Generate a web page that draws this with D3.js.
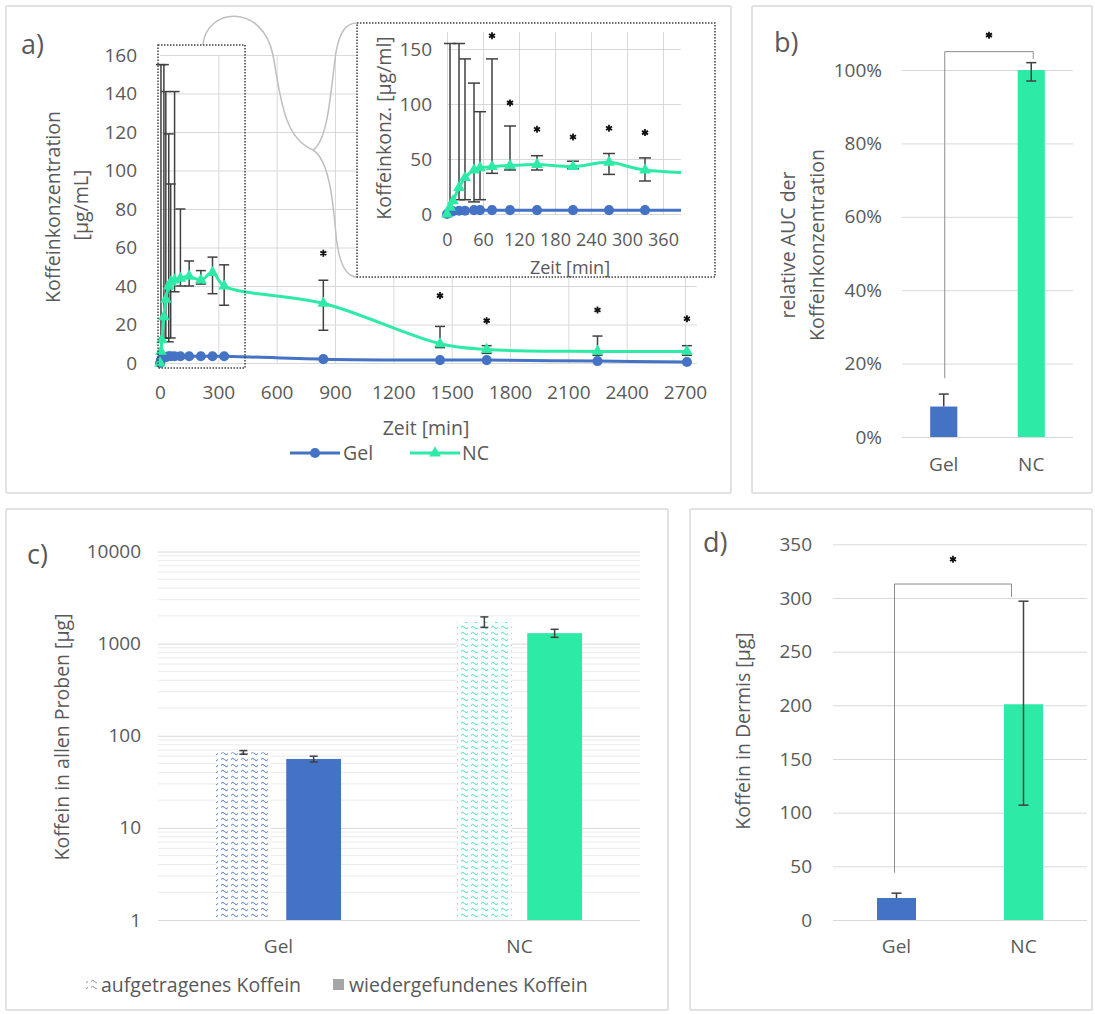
<!DOCTYPE html>
<html><head><meta charset="utf-8">
<script src="https://cdn.jsdelivr.net/npm/d3@7"></script>
<style>
body{margin:0;background:#fff;}
text{font-family:'Open Sans',Lato,sans-serif;}
</style>
</head><body>
<svg id="chart" width="1095" height="1014"></svg>
<script>
// ---------- DATA ----------
// Panel a: time course (min) of caffeine concentration (µg/mL)
const times     = [0, 5, 10, 20, 30, 45, 55, 75, 105, 150, 210, 270, 330, 840, 1440, 1680, 2250, 2710];
const gelConc   = [0, 1.5, 2.5, 3, 3, 3.5, 3.5, 3.5, 3.5, 3.5, 3.5, 3.5, 3.5, 2, 1.5, 1.5, 1, 0.5];
const ncConc    = [0, 6, 12, 24, 33, 40, 42, 43, 44, 45, 43, 47, 40, 31, 10, 7, 6, 6];
const ncErrLow  = [null, 2, null, 13, 13, 11, 13, 37, 40, 40, 41, 36, 30, 17, 8, 5, 4, 4];
const ncErrHigh = [null, 155, null, 155, 141, 119, 93, 141, 80, 53, 48, 55, 51, 43, 19, 9, 14, 9];
const mainStarTimes  = [840, 1440, 1680, 2250, 2710];
const mainStarVals   = [57, 35, 22, 27.5, 23];
const insetStarTimes = [75, 105, 150, 210, 270, 330];
const insetStarVals  = [162, 101, 77, 70, 78, 74];
const aXTicks = [0, 300, 600, 900, 1200, 1500, 1800, 2100, 2400, 2700];
const aYTicks = [0, 20, 40, 60, 80, 100, 120, 140, 160];
const insetXTicks = [0, 60, 120, 180, 240, 300, 360];
const insetYTicks = [0, 50, 100, 150];
const seriesNames = ["Gel", "NC"];

// Panel b: relative AUC
const aucVals = [0.083, 1.0];
const aucErrLow = [0.083, 0.97];
const aucErrHigh = [0.117, 1.02];
const bYTicks = [0, 0.2, 0.4, 0.6, 0.8, 1.0];

// Panel c: caffeine in all samples (µg), log scale
const cSeries = ["aufgetragenes Koffein", "wiedergefundenes Koffein"];
const cApplied = [66, 1720];
const cAppliedLow = [63, 1500];
const cAppliedHigh = [69, 1950];
const cRecovered = [56, 1300];
const cRecoveredLow = [52, 1170];
const cRecoveredHigh = [60, 1430];
const cYTicks = [1, 10, 100, 1000, 10000];

// Panel d: caffeine in dermis (µg)
const dermisVals = [20.5, 201];
const dermisErrLow = [20.5, 107];
const dermisErrHigh = [25, 297];
const dYTicks = [0, 50, 100, 150, 200, 250, 300, 350];

// ---------- STYLE ----------
const TXT = "#595959", GRID = "#D9D9D9", ERR = "#404040", BLUE = "#4472C4", GREEN = "#2DEBA7";
const FS = 19, TFS = 19.5;
const svg = d3.select("#chart");

function styleAxis(g, fs) {
  g.attr("font-family", null).attr("font-size", fs || FS);
  g.select(".domain").remove();
  g.selectAll(".tick line").attr("stroke", GRID).attr("stroke-width", 1);
  g.selectAll(".tick text").attr("fill", TXT);
}
function errBar(g, x, y0, y1, hw) {
  g.append("line").attr("x1", x).attr("x2", x).attr("y1", y0).attr("y2", y1).attr("stroke", ERR).attr("stroke-width", 1.5);
  g.append("line").attr("x1", x - hw).attr("x2", x + hw).attr("y1", y1).attr("y2", y1).attr("stroke", ERR).attr("stroke-width", 1.5);
  g.append("line").attr("x1", x - hw).attr("x2", x + hw).attr("y1", y0).attr("y2", y0).attr("stroke", ERR).attr("stroke-width", 1.5);
}
const starSym = d3.symbol().type(d3.symbolAsterisk || d3.symbolCross).size(34);
function star(g, x, y) {
  g.append("path").attr("d", starSym()).attr("transform", `translate(${x},${y})`)
    .attr("fill", "none").attr("stroke", "#111").attr("stroke-width", 1.8);
}
function panelRect(x0, y0, x1, y1) {
  svg.append("rect").attr("x", x0).attr("y", y0).attr("width", x1 - x0).attr("height", y1 - y0)
    .attr("fill", "#fff").attr("stroke", "#D9D9D9").attr("stroke-width", 1.5).attr("rx", 1);
}
function label(x, y, t, opts = {}) {
  const el = svg.append("text").attr("x", x).attr("y", y).text(t)
    .attr("fill", opts.fill || TXT).attr("font-size", opts.fs || TFS)
    .attr("text-anchor", opts.anchor || "start");
  if (opts.rot) el.attr("transform", `rotate(-90,${x},${y})`);
  if (opts.dy) el.attr("dy", opts.dy);
  return el;
}

panelRect(6, 6, 731, 493);
panelRect(752, 6, 1092, 493);
panelRect(6, 509, 668, 1010);
panelRect(690, 509, 1092, 1010);

// ---------- PANEL A ----------
const xA = d3.scaleLinear().domain([0, 2700]).range([160, 685]);
const yA = d3.scaleLinear().domain([0, 160]).range([363, 55]);
const aG = svg.append("g");
aG.append("g").attr("transform", "translate(160,0)")
  .call(d3.axisLeft(yA).tickValues(aYTicks).tickSize(-(697 - 160)).tickPadding(23))
  .call(g => styleAxis(g));
aG.append("g").attr("transform", "translate(0,363)")
  .call(d3.axisBottom(xA).tickValues(aXTicks).tickFormat(d3.format("d")).tickSize(-(363 - 55)).tickPadding(23))
  .call(g => styleAxis(g))
  .call(g => g.selectAll(".tick line").filter(d => d === 0).remove());

label(21, 54, "a)", {fs: 27});
label(53, 207, "Koffeinkonzentration", {rot: true, anchor: "middle", dy: "0.35em"});
label(81, 205, "[µg/mL]", {rot: true, anchor: "middle", dy: "0.35em"});
label(426, 435, "Zeit [min]", {anchor: "middle"});

const gelPts = times.map((t, i) => ({t, v: gelConc[i]}));
const ncPts = times.map((t, i) => ({t, v: ncConc[i], lo: ncErrLow[i], hi: ncErrHigh[i]}));

// error bars (main)
ncPts.filter(d => d.lo !== null).forEach(d => errBar(aG, xA(d.t), yA(d.lo), yA(d.hi), 5));

const lineA = d3.line().x(d => xA(d.t)).y(d => yA(d.v)).curve(d3.curveCatmullRom.alpha(0.5));
aG.append("path").datum(gelPts).attr("d", lineA).attr("fill", "none").attr("stroke", BLUE).attr("stroke-width", 3);
aG.append("path").datum(ncPts).attr("d", lineA).attr("fill", "none").attr("stroke", GREEN).attr("stroke-width", 3);
const circ = d3.symbol().type(d3.symbolCircle).size(80);
const tri = d3.symbol().type(d3.symbolTriangle).size(60);
aG.selectAll(".gm").data(gelPts).join("path").attr("d", circ()).attr("fill", BLUE)
  .attr("transform", d => `translate(${xA(d.t)},${yA(d.v)})`);
aG.selectAll(".nm").data(ncPts).join("path").attr("d", tri()).attr("fill", GREEN)
  .attr("transform", d => `translate(${xA(d.t)},${yA(d.v)})`);
mainStarTimes.forEach((t, i) => star(aG, xA(t), yA(mainStarVals[i])));

// legend a
const lg = svg.append("g");
lg.append("line").attr("x1", 290).attr("x2", 340).attr("y1", 453).attr("y2", 453).attr("stroke", BLUE).attr("stroke-width", 3);
lg.append("path").attr("d", circ()).attr("fill", BLUE).attr("transform", "translate(315,453)");
label(343, 460, seriesNames[0]);
lg.append("line").attr("x1", 410).attr("x2", 460).attr("y1", 453).attr("y2", 453).attr("stroke", GREEN).attr("stroke-width", 3);
lg.append("path").attr("d", tri()).attr("fill", GREEN).attr("transform", "translate(435,453)");
label(462, 460, seriesNames[1]);

// zoom box + connector
const deco = svg.append("g").attr("fill", "none");
deco.append("path").attr("d", "M203,45 C206,8 262,2 273,55 C281,100 284,138 313,150")
  .attr("stroke", "#BFBFBF").attr("stroke-width", 1.5);
deco.append("path").attr("d", "M313,150 C329,140 331,85 336,52 C340,30 347,23 357,23")
  .attr("stroke", "#BFBFBF").attr("stroke-width", 1.5);
deco.append("path").attr("d", "M313,150 C329,160 333,200 336,235 C339,265 346,277 357,277")
  .attr("stroke", "#BFBFBF").attr("stroke-width", 1.5);
deco.append("rect").attr("x", 158).attr("y", 45).attr("width", 87).attr("height", 323)
  .attr("stroke", "#404040").attr("stroke-width", 1.5).attr("stroke-dasharray", "1.5,1.5");

// ---------- INSET ----------
svg.append("rect").attr("x", 357).attr("y", 23).attr("width", 358).attr("height", 254)
  .attr("fill", "#fff").attr("stroke", "#404040").attr("stroke-width", 1.5).attr("stroke-dasharray", "1.5,1.5");
const xI = d3.scaleLinear().domain([0, 390]).range([447, 681]);
const yI = d3.scaleLinear().domain([0, 150]).range([214, 49]);
const iG = svg.append("g");
iG.append("g").attr("transform", "translate(447,0)")
  .call(d3.axisLeft(yI).tickValues(insetYTicks).tickSize(-(681 - 447)).tickPadding(15))
  .call(g => styleAxis(g));
iG.append("g").attr("transform", "translate(0,214)")
  .call(d3.axisBottom(xI).tickValues(insetXTicks).tickSize(-(214 - 32)).tickPadding(19))
  .call(g => styleAxis(g, 18));
label(384, 128, "Koffeinkonz. [µg/ml]", {rot: true, anchor: "middle", dy: "0.35em"});
label(570, 274, "Zeit [min]", {anchor: "middle", fs: 18});

svg.append("clipPath").attr("id", "iclip").append("rect").attr("x", 440).attr("y", 25).attr("width", 241).attr("height", 200);
const iData = iG.append("g").attr("clip-path", "url(#iclip)");
ncPts.filter(d => d.lo !== null && d.t <= 390).forEach(d => errBar(iData, xI(d.t), yI(d.lo), yI(d.hi), 6));
const lineI = d3.line().x(d => xI(d.t)).y(d => yI(d.v)).curve(d3.curveCatmullRom.alpha(0.5));
iData.append("path").datum(gelPts).attr("d", lineI).attr("fill", "none").attr("stroke", BLUE).attr("stroke-width", 3);
iData.append("path").datum(ncPts).attr("d", lineI).attr("fill", "none").attr("stroke", GREEN).attr("stroke-width", 3);
iData.selectAll(".gm").data(gelPts.filter(d => d.t <= 390)).join("path").attr("d", circ()).attr("fill", BLUE)
  .attr("transform", d => `translate(${xI(d.t)},${yI(d.v)})`);
iData.selectAll(".nm").data(ncPts.filter(d => d.t <= 390)).join("path").attr("d", tri()).attr("fill", GREEN)
  .attr("transform", d => `translate(${xI(d.t)},${yI(d.v)})`);
insetStarTimes.forEach((t, i) => star(iG, xI(t), yI(insetStarVals[i])));

// ---------- PANEL B ----------
const xB = d3.scaleBand().domain(seriesNames).range([900, 1075]).paddingInner(0.69).paddingOuter(0.345);
const yB = d3.scaleLinear().domain([0, 1]).range([437, 70]);
const bG = svg.append("g");
bG.append("g").attr("transform", "translate(902,0)")
  .call(d3.axisLeft(yB).tickValues(bYTicks).tickFormat(d3.format(".0%")).tickSize(-(1073 - 902)).tickPadding(20))
  .call(g => styleAxis(g));
bG.append("g").attr("transform", "translate(0,437)")
  .call(d3.axisBottom(xB).tickSize(0).tickPadding(21))
  .call(g => styleAxis(g));
label(774, 52, "b)", {fs: 27});
label(788, 245, "relative AUC der", {rot: true, anchor: "middle", dy: "0.35em"});
label(817, 245, "Koffeinkonzentration", {rot: true, anchor: "middle", dy: "0.35em"});
bG.selectAll(".bar").data(seriesNames).join("rect")
  .attr("x", d => xB(d)).attr("width", xB.bandwidth())
  .attr("y", (d, i) => yB(aucVals[i])).attr("height", (d, i) => yB(0) - yB(aucVals[i]))
  .attr("fill", (d, i) => i === 0 ? BLUE : GREEN);
seriesNames.forEach((s, i) => {
  const cx = xB(s) + xB.bandwidth() / 2;
  if (aucErrLow[i] === aucVals[i]) {
    bG.append("line").attr("x1", cx).attr("x2", cx).attr("y1", yB(aucVals[i])).attr("y2", yB(aucErrHigh[i])).attr("stroke", ERR).attr("stroke-width", 1.5);
    bG.append("line").attr("x1", cx - 5).attr("x2", cx + 5).attr("y1", yB(aucErrHigh[i])).attr("y2", yB(aucErrHigh[i])).attr("stroke", ERR).attr("stroke-width", 1.5);
  } else errBar(bG, cx, yB(aucErrLow[i]), yB(aucErrHigh[i]), 5);
});
{
  const gx = xB("Gel") + xB.bandwidth() / 2 + 1, nx = xB("NC") + xB.bandwidth() / 2 + 2;
  bG.append("path").attr("d", `M${gx},${yB(0.16)} V${yB(1.05)} H${nx} V${yB(1.03)}`)
    .attr("fill", "none").attr("stroke", "#8C8C8C").attr("stroke-width", 1);
  star(bG, (gx + nx) / 2, yB(1.095));
}

// ---------- PANEL C ----------
const x0C = d3.scaleBand().domain(seriesNames).range([158, 640]).paddingInner(0.481).paddingOuter(0.2405);
const x1C = d3.scaleBand().domain(cSeries).range([0, x0C.bandwidth()]).paddingInner(0.22);
const yC = d3.scaleLog().domain([1, 10000]).range([920, 551.5]);
const cG = svg.append("g");
const minor = [];
cYTicks.slice(0, -1).forEach(dec => { for (let k = 2; k <= 9; k++) minor.push(dec * k); });
cG.selectAll(".minor").data(minor).join("line")
  .attr("x1", 158).attr("x2", 640).attr("y1", d => yC(d)).attr("y2", d => yC(d))
  .attr("stroke", "#EBEBEB").attr("stroke-width", 1);
cG.append("g").attr("transform", "translate(158,0)")
  .call(d3.axisLeft(yC).tickValues(cYTicks).tickFormat(d3.format("d")).tickSize(-(640 - 158)).tickPadding(17))
  .call(g => styleAxis(g));
cG.append("g").attr("transform", "translate(0,920)")
  .call(d3.axisBottom(x0C).tickSize(0).tickPadding(20))
  .call(g => styleAxis(g));
label(27, 564, "c)", {fs: 27});
label(62, 737, "Koffein in allen Proben [µg]", {rot: true, anchor: "middle", dy: "0.35em"});

const defs = svg.append("defs");
function wave(id, color) {
  const p = defs.append("pattern").attr("id", id).attr("patternUnits", "userSpaceOnUse").attr("width", 10).attr("height", 6);
  p.append("rect").attr("width", 10).attr("height", 6).attr("fill", "#fff");
  p.append("path").attr("d", "M1,3.5 Q2.75,1 4.5,3.5 T8,3.5").attr("fill", "none").attr("stroke", color).attr("stroke-width", 1);
}
wave("wBlue", BLUE); wave("wGreen", GREEN); wave("wGray", "#8C8C8C");

seriesNames.forEach((s, i) => {
  const gx = x0C(s);
  const xa = gx + x1C(cSeries[0]), xr = gx + x1C(cSeries[1]), bw = x1C.bandwidth();
  cG.append("rect").attr("x", xa).attr("width", bw).attr("y", yC(cApplied[i])).attr("height", yC(1) - yC(cApplied[i]))
    .attr("fill", i === 0 ? "url(#wBlue)" : "url(#wGreen)");
  cG.append("rect").attr("x", xr).attr("width", bw).attr("y", yC(cRecovered[i])).attr("height", yC(1) - yC(cRecovered[i]))
    .attr("fill", i === 0 ? BLUE : GREEN);
  errBar(cG, xa + bw / 2, yC(cAppliedLow[i]), yC(cAppliedHigh[i]), 4);
  errBar(cG, xr + bw / 2, yC(cRecoveredLow[i]), yC(cRecoveredHigh[i]), 4);
});
// legend c
svg.append("rect").attr("x", 86).attr("y", 979).attr("width", 11).attr("height", 11).attr("fill", "url(#wGray)");
label(101, 992, cSeries[0]);
svg.append("rect").attr("x", 333).attr("y", 979).attr("width", 11).attr("height", 11).attr("fill", "#A6A6A6");
label(349, 992, cSeries[1]);

// ---------- PANEL D ----------
const xD = d3.scaleBand().domain(seriesNames).range([833, 1087]).paddingInner(0.693).paddingOuter(0.3465);
const yD = d3.scaleLinear().domain([0, 350]).range([920, 544.3]);
const dG = svg.append("g");
dG.append("g").attr("transform", "translate(833,0)")
  .call(d3.axisLeft(yD).tickValues(dYTicks).tickSize(-(1087 - 833)).tickPadding(21))
  .call(g => styleAxis(g));
dG.append("g").attr("transform", "translate(0,920)")
  .call(d3.axisBottom(xD).tickSize(0).tickPadding(20))
  .call(g => styleAxis(g));
label(703, 552, "d)", {fs: 27});
label(743, 731, "Koffein in Dermis [µg]", {rot: true, anchor: "middle", dy: "0.35em"});
dG.selectAll(".bar").data(seriesNames).join("rect")
  .attr("x", d => xD(d)).attr("width", xD.bandwidth())
  .attr("y", (d, i) => yD(dermisVals[i])).attr("height", (d, i) => yD(0) - yD(dermisVals[i]))
  .attr("fill", (d, i) => i === 0 ? BLUE : GREEN);
seriesNames.forEach((s, i) => {
  const cx = xD(s) + xD.bandwidth() / 2;
  if (dermisErrLow[i] === dermisVals[i]) {
    dG.append("line").attr("x1", cx).attr("x2", cx).attr("y1", yD(dermisVals[i])).attr("y2", yD(dermisErrHigh[i])).attr("stroke", ERR).attr("stroke-width", 1.5);
    dG.append("line").attr("x1", cx - 5).attr("x2", cx + 5).attr("y1", yD(dermisErrHigh[i])).attr("y2", yD(dermisErrHigh[i])).attr("stroke", ERR).attr("stroke-width", 1.5);
  } else errBar(dG, cx, yD(dermisErrLow[i]), yD(dermisErrHigh[i]), 5);
});
{
  const gx = xD("Gel") + xD.bandwidth() / 2 - 2, nx = xD("NC") + xD.bandwidth() / 2 - 12;
  dG.append("path").attr("d", `M${gx},${yD(44)} V${yD(313)} H${nx} V${yD(301)}`)
    .attr("fill", "none").attr("stroke", "#8C8C8C").attr("stroke-width", 1);
  star(dG, (gx + nx) / 2, yD(336));
}
</script>
</body></html>
